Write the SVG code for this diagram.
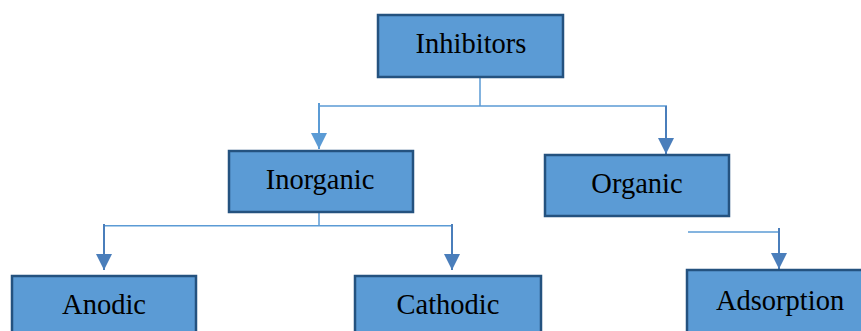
<svg xmlns="http://www.w3.org/2000/svg" xmlns:xlink="http://www.w3.org/1999/xlink" width="861" height="331" viewBox="0 0 861 331">
<style>
.box{fill:#5b9bd5;stroke:#24527f;stroke-width:2.5}
.lbl{font-family:"Liberation Serif","Times New Roman",serif;font-size:28.5px;fill:#000;text-anchor:middle}
.bar{stroke:#5b9bd5;stroke-width:1.5;fill:none}
.shaft{stroke:#4a7ebb;stroke-width:2;fill:none}
.head{fill:#4a7ebb}
</style>
<defs>
<path id="ah" d="M-8,-16 L8,-16 L0,0 Z"/>
</defs>
<rect width="861" height="331" fill="#fff"/>
<g id="connectors">
<path class="bar" d="M480,77 V106 M318,106 H667"/>
<path class="bar" d="M319,212 V225.7 M104,225.7 H452"/>
<path class="bar" d="M688,232 H779"/>
<path d="M319,103 V149" stroke="#5b9bd5" stroke-width="2" fill="none"/>
<use xlink:href="#ah" href="#ah" x="319" y="149" fill="#5b9bd5"/>
<path class="shaft" d="M666,106 V154"/>
<use xlink:href="#ah" href="#ah" class="head" x="666" y="154"/>
<path class="shaft" d="M104,224 V270"/>
<use xlink:href="#ah" href="#ah" class="head" x="104" y="270"/>
<path class="shaft" d="M452,224 V270"/>
<use xlink:href="#ah" href="#ah" class="head" x="452" y="270"/>
<path class="shaft" d="M779,228 V269"/>
<use xlink:href="#ah" href="#ah" class="head" x="779" y="269"/>
</g>
<g id="inhibitors"><rect class="box" x="378" y="15" width="185" height="62"/><text class="lbl" x="471" y="53">Inhibitors</text></g>
<g id="inorganic"><rect class="box" x="229" y="151" width="184" height="61"/><text class="lbl" x="320" y="189">Inorganic</text></g>
<g id="organic"><rect class="box" x="545" y="155" width="184" height="61"/><text class="lbl" x="637" y="193">Organic</text></g>
<g id="anodic"><rect class="box" x="12" y="276" width="184" height="64"/><text class="lbl" x="104" y="314">Anodic</text></g>
<g id="cathodic"><rect class="box" x="355" y="276" width="186" height="64"/><text class="lbl" x="448" y="314">Cathodic</text></g>
<g id="adsorption"><rect class="box" x="687" y="270" width="185" height="70"/><text class="lbl" x="780" y="310">Adsorption</text></g>
</svg>
